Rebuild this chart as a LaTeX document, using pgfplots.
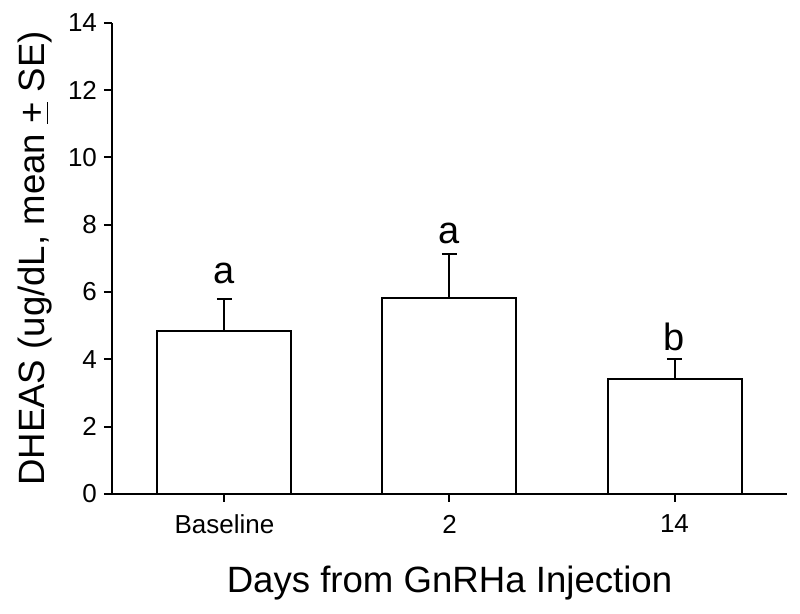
\documentclass[border=0pt]{standalone}
\usepackage{fontspec}
\setmainfont{Liberation Sans}
\usepackage{pgfplots}
\pgfplotsset{compat=1.18}
\begin{document}
\begin{tikzpicture}[x=1pt,y=1pt]
\begin{axis}[
    at={(56pt,60pt)}, anchor=south west,
    scale only axis,
    width=337.5pt, height=235.6pt,
    ybar, bar width=67pt,
    xmin=-0.5, xmax=2.5,
    ymin=0, ymax=14,
    axis x line*=bottom, axis y line*=left,
    xtick={0,1,2}, xticklabels={Baseline,2,14},
    ytick={0,2,...,14},
    tick align=outside,
    major tick length=4pt,
    axis line style={line width=1pt, black},
    tick style={line width=1pt, black},
    ticklabel style={font=\fontsize{13}{15}\selectfont},
    xticklabel style={yshift=-3pt},
    /pgf/number format/assume math mode=true,
    xlabel={Days from GnRHa Injection},
    ylabel={DHEAS (ug/dL, mean \underline{+} SE)},
    label style={font=\fontsize{18.3}{22}\selectfont},
    xlabel style={yshift=-9pt},
    ylabel style={yshift=1pt},
    clip=false,
]
\addplot[fill=white, draw=black, line width=1pt,
    error bars/.cd, y dir=plus, y explicit,
    error bar style={line width=1pt, black},
    error mark=-,
    error mark options={rotate=90, line width=1pt, mark size=3.8pt, black}]
  coordinates {(0,4.85) +- (0,0.95) (1,5.81) +- (0,1.31) (2,3.42) +- (0,0.59)};

\node[font=\fontsize{19}{22}\selectfont, anchor=base] at (axis cs:0,6.25) {a};
\node[font=\fontsize{19}{22}\selectfont, anchor=base] at (axis cs:1,7.45) {a};
\node[font=\fontsize{19}{22}\selectfont, anchor=base] at (axis cs:2,4.27) {b};
\end{axis}
\pgfresetboundingbox
\useasboundingbox (0,0) rectangle (400,307);
\end{tikzpicture}
\end{document}
